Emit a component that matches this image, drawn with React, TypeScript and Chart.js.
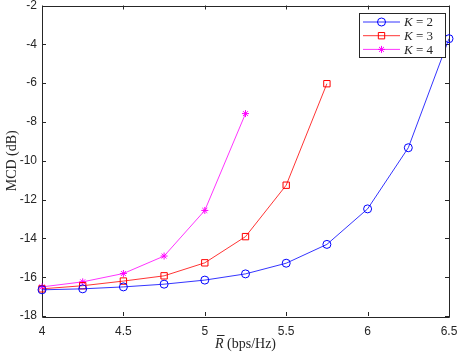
import React, { useEffect, useRef } from "react";
import { Chart, registerables } from "chart.js";

Chart.register(...registerables);

const rates = [4, 4.25, 4.5, 4.75, 5, 5.25, 5.5, 5.75, 6, 6.25, 6.5];
const mcdK2 = [-16.65, -16.6, -16.5, -16.36, -16.15, -15.83, -15.28, -14.31, -12.48, -9.33, -3.71];
const mcdK3 = [-16.6, -16.44, -16.2, -15.93, -15.26, -13.91, -11.26, -6.03];
const mcdK4 = [-16.5, -16.24, -15.81, -14.91, -12.56, -7.57];
const seriesLabels = ["2", "3", "4"];
const xTicks = [4, 4.5, 5, 5.5, 6, 6.5];
const yTicks = [-18, -16, -14, -12, -10, -8, -6, -4, -2];

const AXIS = "#262626";
const SERIF = '"Liberation Serif", "DejaVu Serif", serif';

function drawMarker(ctx: CanvasRenderingContext2D, style: string, r: number, x: number, y: number) {
  ctx.beginPath();
  if (style === "circle") {
    ctx.arc(x, y, r, 0, Math.PI * 2);
  } else if (style === "rect") {
    const s = r * Math.SQRT1_2;
    ctx.rect(x - s, y - s, 2 * s, 2 * s);
  } else {
    const d = r * Math.SQRT1_2;
    ctx.moveTo(x - r, y); ctx.lineTo(x + r, y);
    ctx.moveTo(x, y - r); ctx.lineTo(x, y + r);
    ctx.moveTo(x - d, y - d); ctx.lineTo(x + d, y + d);
    ctx.moveTo(x - d, y + d); ctx.lineTo(x + d, y - d);
  }
  ctx.stroke();
}

const framePlugin = {
  id: "frame",
  beforeDatasetsDraw(chart: any) {
    const { ctx, chartArea: a, scales } = chart;
    const xs = scales.x;
    const ys = scales.y;
    ctx.save();
    ctx.strokeStyle = AXIS;
    ctx.lineWidth = 1;
    ctx.beginPath();
    ctx.rect(Math.round(a.left) + 0.5, Math.round(a.top) + 0.5, Math.round(a.right - a.left), Math.round(a.bottom - a.top));
    ctx.stroke();
    const tl = 4;
    ctx.beginPath();
    xTicks.forEach((v) => {
      const px = Math.round(xs.getPixelForValue(v)) + 0.5;
      ctx.moveTo(px, a.bottom);
      ctx.lineTo(px, a.bottom - tl);
      ctx.moveTo(px, a.top);
      ctx.lineTo(px, a.top + tl);
    });
    yTicks.forEach((v) => {
      const py = Math.round(ys.getPixelForValue(v)) + 0.5;
      ctx.moveTo(a.left, py);
      ctx.lineTo(a.left + tl, py);
      ctx.moveTo(a.right, py);
      ctx.lineTo(a.right - tl, py);
    });
    ctx.stroke();

    ctx.fillStyle = AXIS;
    ctx.textBaseline = "middle";
    const cx = (a.left + a.right) / 2;
    const ty = 344;
    ctx.font = `italic 14px ${SERIF}`;
    const rW = ctx.measureText("R").width;
    ctx.font = `14px ${SERIF}`;
    const rest = " (bps/Hz)";
    const restW = ctx.measureText(rest).width;
    const startX = cx - (rW + restW) / 2;
    ctx.textAlign = "left";
    ctx.font = `italic 14px ${SERIF}`;
    ctx.fillText("R", startX, ty);
    ctx.fillRect(startX + 2, ty - 9, rW - 1, 1);
    ctx.font = `14px ${SERIF}`;
    ctx.fillText(rest, startX + rW, ty);
    ctx.save();
    ctx.translate(12, (a.top + a.bottom) / 2);
    ctx.rotate(-Math.PI / 2);
    ctx.textAlign = "center";
    ctx.font = `14px ${SERIF}`;
    ctx.fillText("MCD (dB)", 0, 0);
    ctx.restore();
    ctx.restore();
  },
  afterDraw(chart: any) {
    const ctx = chart.ctx;
    ctx.save();
    const lx = 359, ly = 13, lw = 86, lh = 44;
    ctx.fillStyle = "#ffffff";
    ctx.fillRect(lx, ly, lw, lh);
    ctx.strokeStyle = AXIS;
    ctx.lineWidth = 1;
    ctx.strokeRect(lx + 0.5, ly + 0.5, lw, lh);
    ctx.textBaseline = "middle";
    chart.data.datasets.forEach((ds: any, i: number) => {
      const yy = 22 + i * 13.7;
      ctx.strokeStyle = ds.borderColor;
      ctx.lineWidth = ds.borderWidth;
      ctx.beginPath();
      ctx.moveTo(363, yy);
      ctx.lineTo(400, yy);
      ctx.stroke();
      ctx.lineWidth = 1;
      drawMarker(ctx, ds.pointStyle, ds.pointRadius, 381.5, yy);
      ctx.fillStyle = AXIS;
      ctx.textAlign = "left";
      ctx.font = `italic 13px ${SERIF}`;
      ctx.fillText("K", 404, yy + 1);
      const kw = ctx.measureText("K").width;
      ctx.font = `13px ${SERIF}`;
      ctx.fillText(" = " + seriesLabels[i], 404 + kw, yy + 1);
    });
    ctx.restore();
  },
};

export default function App() {
  const ref = useRef<HTMLCanvasElement>(null);
  useEffect(() => {
    document.body.style.margin = "0";
    const canvas = ref.current!;
    const mk = (vals: number[]) => vals.map((v, i) => ({ x: rates[i], y: v }));
    const base = {
      borderWidth: 0.8,
      pointBorderWidth: 1,
      pointBackgroundColor: "rgba(0,0,0,0)",
      clip: false as any,
    };
    const chart = new Chart(canvas, {
      type: "line",
      data: {
        datasets: [
          { ...base, label: "K = 2", data: mk(mcdK2), borderColor: "#0000ff", pointBorderColor: "#0000ff", pointStyle: "circle", pointRadius: 4 },
          { ...base, label: "K = 3", data: mk(mcdK3), borderColor: "#ff0000", pointBorderColor: "#ff0000", pointStyle: "rect", pointRadius: 4.5 },
          { ...base, label: "K = 4", data: mk(mcdK4), borderColor: "#ff00ff", pointBorderColor: "#ff00ff", pointStyle: "star", pointRadius: 3.5 },
        ] as any,
      },
      options: {
        responsive: false,
        animation: false,
        layout: { padding: { left: 0, right: 9, top: 4, bottom: 0 } },
        plugins: { legend: { display: false }, tooltip: { enabled: false } },
        scales: {
          x: {
            type: "linear",
            min: 4,
            max: 6.5,
            afterBuildTicks: (s: any) => {
              s.ticks = xTicks.map((v) => ({ value: v }));
            },
            afterFit: (s: any) => {
              s.height = 38;
              s.paddingLeft = 0;
              s.paddingRight = 0;
              s.paddingTop = 0;
              s.paddingBottom = 0;
            },
            grid: { display: false, drawTicks: false },
            border: { display: false },
            ticks: {
              font: { family: '"Liberation Sans", Arial, sans-serif', size: 12 },
              color: AXIS,
              padding: 8,
              maxRotation: 0,
              autoSkip: false,
              callback: (v: any) => String(v),
            },
          },
          y: {
            type: "linear",
            min: -18,
            max: -2,
            afterBuildTicks: (s: any) => {
              s.ticks = yTicks.map((v) => ({ value: v }));
            },
            afterFit: (s: any) => {
              s.width = 42;
              s.paddingLeft = 0;
              s.paddingRight = 0;
              s.paddingTop = 0;
              s.paddingBottom = 0;
            },
            grid: { display: false, drawTicks: false },
            border: { display: false },
            ticks: {
              font: { family: '"Liberation Sans", Arial, sans-serif', size: 12 },
              color: AXIS,
              padding: 5,
              autoSkip: false,
              callback: (v: any) => String(v),
            },
          },
        },
      },
      plugins: [framePlugin],
    });
    return () => chart.destroy();
  }, []);
  return (
    <div style={{ width: 458, height: 354 }}>
      <canvas ref={ref} width={458} height={354} style={{ display: "block" }} />
    </div>
  );
}
